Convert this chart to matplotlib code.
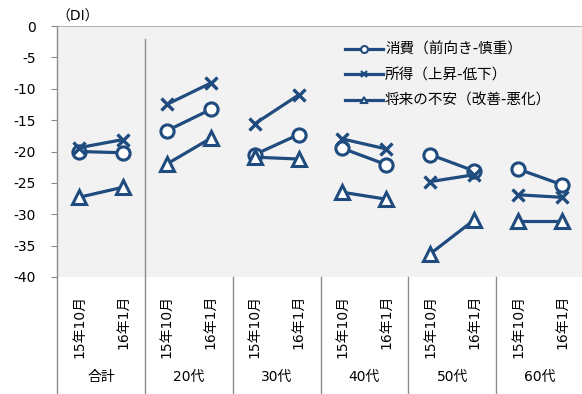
import matplotlib
matplotlib.use("Agg")
import matplotlib.pyplot as plt
import matplotlib.transforms as mtransforms
from matplotlib.lines import Line2D

plt.rcParams['font.family'] = ['DejaVu Sans', 'Noto Sans CJK JP']

# --- data -------------------------------------------------------------
groups = ['合計', '20代', '30代', '40代', '50代', '60代']
periods = ['15年10月', '16年1月']

consumption = [-20.0, -20.2, -16.7, -13.3, -20.5, -17.3,
               -19.5, -22.1, -20.5, -23.1, -22.8, -25.3]
income = [-19.4, -18.1, -12.5, -9.1, -15.6, -11.0,
          -18.0, -19.6, -24.8, -23.7, -26.9, -27.3]
anxiety = [-27.3, -25.7, -22.0, -17.9, -20.9, -21.2,
           -26.5, -27.6, -36.3, -30.9, -31.1, -31.1]

series_names = ['消費（前向き-慎重）', '所得（上昇-低下）', '将来の不安（改善-悪化）']
y_ticks = [0, -5, -10, -15, -20, -25, -30, -35, -40]

# --- styling ----------------------------------------------------------
navy = '#1F4B7E'
grid_gray = '#A6A6A6'
sep_gray = '#8C8C8C'

W, H = 582, 394
fig = plt.figure(figsize=(W / 100, H / 100), dpi=100)
ax = fig.add_axes([57 / W, 1 - 277 / H, 527 / W, 251 / H])
ax.set_facecolor('#F2F2F2')

n = len(groups) * len(periods)
xs = list(range(n))

styles = [
    dict(marker='o', markersize=9.5, markeredgewidth=2.2),
    dict(marker='x', markersize=8.5, markeredgewidth=2.4),
    dict(marker='^', markersize=9.5, markeredgewidth=2.2),
]
all_series = [consumption, income, anxiety]

for vals, st in zip(all_series, styles):
    for g in range(len(groups)):
        i0 = g * 2
        ax.plot(xs[i0:i0 + 2], vals[i0:i0 + 2], color=navy, lw=2.3,
                markerfacecolor='white', markeredgecolor=navy,
                solid_capstyle='butt', zorder=3, **st)

ax.set_xlim(-0.5, n - 0.5)
ax.set_ylim(-40, 0)

for s in ['top', 'right', 'bottom']:
    ax.spines[s].set_visible(False)
ax.spines['left'].set_color(sep_gray)
ax.spines['left'].set_linewidth(1.0)

ax.set_yticks(y_ticks)
ax.set_yticklabels([str(v) for v in y_ticks], fontsize=10)
ax.tick_params(axis='y', length=4, width=0.8, color=sep_gray, pad=11)

ax.set_xticks(xs)
ax.set_xticklabels(periods * len(groups), rotation=90, fontsize=10,
                   va='top', ha='center')
ax.tick_params(axis='x', length=0, pad=13)

# top reference line at zero
ax.axhline(0, color=grid_gray, lw=1.2, zorder=1)

trans = mtransforms.blended_transform_factory(ax.transData, ax.transAxes)
bottom_ax = -(H - 277) / 251.0

# left axis line continues through the label area
ax.plot([-0.5, -0.5], [0, bottom_ax], transform=trans, color=sep_gray,
        lw=1.0, clip_on=False)

# group separators in the label area
for g in range(1, len(groups)):
    xb = g * 2 - 0.5
    ax.plot([xb, xb], [0, bottom_ax], transform=trans, color=sep_gray,
            lw=1.0, clip_on=False)

# separator between total and age groups inside the plot
ax.plot([1.5, 1.5], [-2.1, -40], color=sep_gray, lw=1.0, zorder=2)

# group labels
for g, name in enumerate(groups):
    ax.text(g * 2 + 0.5, -(377 - 277) / 251.0, name, transform=trans,
            ha='center', va='center', fontsize=10)

# unit label
fig.text(56 / W, 1 - 17 / H, '（DI）', ha='left', va='center', fontsize=10)

# legend
handles = [
    Line2D([], [], color=navy, lw=2.3, marker='o', markersize=5,
           markerfacecolor='white', markeredgecolor=navy, markeredgewidth=1.5),
    Line2D([], [], color=navy, lw=2.3, marker='x', markersize=4.5,
           markeredgecolor=navy, markeredgewidth=1.6),
    Line2D([], [], color=navy, lw=2.3, marker='^', markersize=5,
           markerfacecolor='white', markeredgecolor=navy, markeredgewidth=1.5),
]
fig.legend(handles, series_names, loc='upper left',
           bbox_to_anchor=(345 / W, 1 - 42 / H), frameon=False,
           fontsize=10.5, handlelength=2.6, handletextpad=0.15,
           labelspacing=0.72, borderpad=0, borderaxespad=0)

fig.savefig('out.png', dpi=100)
